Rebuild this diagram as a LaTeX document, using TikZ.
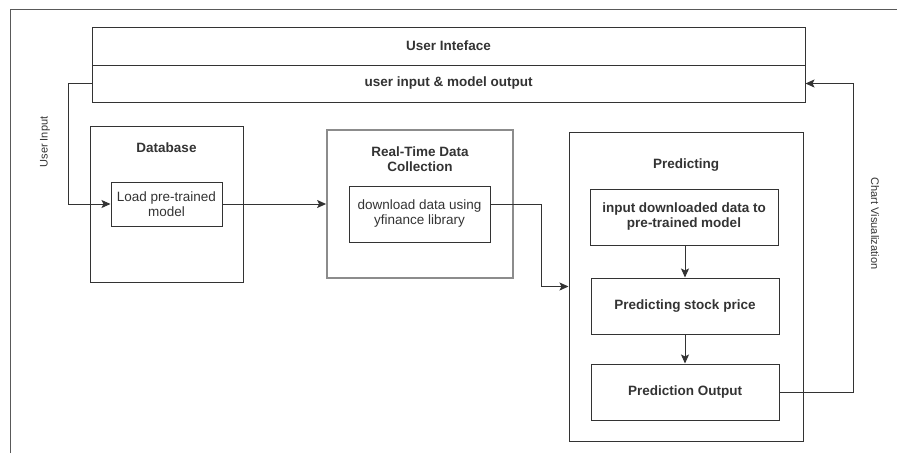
\documentclass[tikz,border=0pt]{standalone}
\usepackage{fontspec}
\setmainfont{Liberation Sans}
\usetikzlibrary{arrows.meta}
\definecolor{inkgray}{HTML}{333333}
\definecolor{midgray}{HTML}{8C8C8C}
\tikzset{
	box/.style={draw=inkgray, line width=1pt, inner sep=0pt, align=center, text=inkgray, font=\fontsize{13.5}{15}\selectfont},
	boldbox/.style={box, font=\fontsize{13.5}{15}\selectfont\bfseries},
	heading/.style={inner sep=0pt, align=center, text=inkgray, font=\fontsize{13.5}{15}\selectfont\bfseries},
	sidetext/.style={inner sep=0pt, text=inkgray, font=\fontsize{11}{13}\selectfont},
	link/.style={draw=inkgray, line width=1pt, -{Stealth[length=9pt,width=8pt,inset=2pt]}}
}

\begin{document}
\begin{tikzpicture}[x=1pt, y=-1pt]
		%%%%% START %%%%%
		\useasboundingbox (0, 0) rectangle (897, 453);
		
		\draw[line width=1pt, color=black!65] (10, 453) -- (10, 9.5) -- (897, 9.5);
		
		\node[boldbox, minimum width=713, minimum height=38] (uitop) at (448.5, 46) {User Inteface};
		\node[boldbox, minimum width=713, minimum height=37] (uibot) at (448.5, 83.5) {user input \& model output};
		
		\node[box, minimum width=153, minimum height=156] (db) at (166.5, 204) {};
		\node[heading] (dbtitle) at (166.5, 148) {Database};
		\node[box, minimum width=111, minimum height=44] (load) at (166.5, 204) {Load pre-trained\\model};
		
		\node[box, draw=midgray, line width=1.8pt, minimum width=186, minimum height=148] (rtdc) at (420, 204) {};
		\node[heading] (rtdctitle) at (420, 159.5) {Real-Time Data\\Collection};
		\node[box, minimum width=141, minimum height=56] (dl) at (419.5, 214) {download data using\\yfinance library};
		
		\node[box, minimum width=234, minimum height=309] (pred) at (686, 286.5) {};
		\node[heading] (predtitle) at (686, 165) {Predicting};
		\node[boldbox, minimum width=188, minimum height=56] (p1) at (684, 217) {input downloaded data to\\pre-trained model};
		\node[boldbox, minimum width=188, minimum height=56] (p2) at (685, 306) {Predicting stock price};
		\node[boldbox, minimum width=188, minimum height=56] (p3) at (685, 392) {Prediction Output};
		
		\draw[link] (uibot.west) -- ++(-23, 0) |- (load.west);
		\draw[link] (load.east) -- (rtdc.west);
		\draw[link] (dl.east |- rtdc.west) -- ++(51, 0) |- (pred.west);
		\draw[link] (p1.south -| p2.north) -- (p2.north);
		\draw[link] (p2.south) -- (p3.north);
		\draw[link] (p3.east) -- ++(74, 0) |- (uibot.east);
		
		\node[sidetext, rotate=90] (uilabel) at (45, 142) {User Input};
		\node[sidetext, rotate=-90] (cvlabel) at (875, 223.5) {Chart Visualization};
		
		%%%%% END %%%%%
	\end{tikzpicture}
\end{document}
